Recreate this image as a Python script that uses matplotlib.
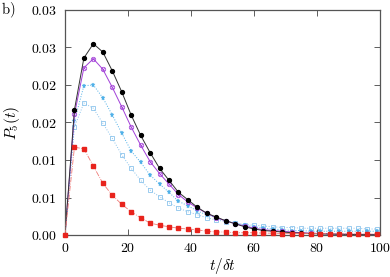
import numpy as np
import matplotlib
matplotlib.use("Agg")
import matplotlib.pyplot as plt

plt.rcParams['mathtext.fontset'] = 'cm'
plt.rcParams['font.family'] = ['DejaVu Serif']

t = np.arange(0, 100, 3)

black = [0, 0.0167, 0.0236, 0.0255, 0.0244, 0.0219, 0.0191, 0.0160, 0.0133, 0.0110,
         0.0089, 0.0073, 0.0057, 0.0047, 0.0037, 0.0029, 0.0024, 0.0019, 0.0015, 0.0011,
         0.0008, 0.0006, 0.0005, 0.0004, 0.0003, 0.00025, 0.0002, 0.00015, 0.00012, 0.0001,
         0.00008, 0.00006, 0.00005, 0.00004]
purple = [0, 0.0161, 0.0223, 0.0235, 0.0221, 0.0197, 0.0171, 0.0144, 0.0120, 0.0098,
          0.0082, 0.0068, 0.0054, 0.0044, 0.0036, 0.0029, 0.0023, 0.0019, 0.0015, 0.0012,
          0.0009, 0.0007, 0.0006, 0.0005, 0.0004, 0.0003, 0.00025, 0.0002, 0.00015, 0.00012,
          0.0001, 0.00009, 0.00008, 0.00007]
stars = [0, 0.0152, 0.0199, 0.0200, 0.0183, 0.0160, 0.0136, 0.0112, 0.0097, 0.0080,
         0.0068, 0.0057, 0.0045, 0.0039, 0.0032, 0.0027, 0.0023, 0.0019, 0.0016, 0.0013,
         0.0011, 0.0009, 0.0008, 0.0007, 0.0006, 0.0006, 0.0005, 0.0005, 0.0005, 0.0005,
         0.0005, 0.0005, 0.0005, 0.0005]
squares = [0, 0.0144, 0.0176, 0.0169, 0.0149, 0.0129, 0.0107, 0.0089, 0.0073, 0.0060,
           0.0051, 0.0043, 0.0036, 0.0031, 0.0027, 0.0023, 0.0020, 0.0018, 0.0016, 0.0014,
           0.0013, 0.0012, 0.0011, 0.0010, 0.0010, 0.0009, 0.0009, 0.0009, 0.0009, 0.0009,
           0.0009, 0.0009, 0.0008, 0.0008]
red = [0, 0.0117, 0.0115, 0.0092, 0.0069, 0.0053, 0.0041, 0.0031, 0.0023, 0.0016,
       0.0013, 0.0011, 0.0009, 0.0008, 0.0007, 0.0005, 0.0004, 0.0004, 0.0003, 0.0003,
       0.0003, 0.00025, 0.00025, 0.0002, 0.0002, 0.0002, 0.0002, 0.00018, 0.00017, 0.00016,
       0.00015, 0.00015, 0.00015, 0.00015]

yticks = [0, 0.005, 0.01, 0.015, 0.02, 0.025, 0.03]
ytick_labels = ['0.00', '0.01', '0.01', '0.02', '0.02', '0.03', '0.03']
xticks = [0, 20, 40, 60, 80, 100]

fig = plt.figure(figsize=(3.9, 2.77), dpi=100)
ax = fig.add_axes([65/390, 1-235/277, (380-65)/390, (235-10)/277])

c_sq = '#8cc4ec'
c_st = '#4fb0e8'
c_pu = '#a23fd8'
c_red = '#e8231c'

ax.plot(t, squares, ls=':', color=c_sq, lw=0.7, marker='s', ms=2.8, mfc='none',
        mec=c_sq, mew=0.6)
ax.plot(t, stars, ls=':', color=c_st, lw=0.7, marker='*', ms=3.6, mfc=c_st,
        mec=c_st, mew=0.3)
ax.plot(t, purple, ls='-', color=c_pu, lw=0.7, marker='o', ms=3.2, mfc='none',
        mec=c_pu, mew=0.55)
ax.plot(t, purple, ls='none', marker='x', ms=2.0, mec=c_pu, mew=0.45)
ax.plot(t, black, ls='-', color='#333333', lw=0.7, marker='o', ms=2.8, mfc='black',
        mec='black')
ax.plot(t, red, ls='-.', color='#f07a76', lw=0.6, marker='s', ms=2.6, mfc=c_red,
        mec=c_red, clip_on=False, zorder=5)

ax.set_xlim(0, 100)
ax.set_ylim(0, 0.03)
ax.set_xticks(xticks)
ax.set_xticklabels(['$%d$' % v for v in xticks])
ax.set_yticks(yticks)
ax.set_yticklabels(['$%s$' % s for s in ytick_labels])
ax.tick_params(axis='both', direction='in', top=True, right=True, length=4, width=0.6,
               labelsize=10, color='#444444')
ax.tick_params(axis='x', pad=4)
ax.tick_params(axis='y', pad=6)
for s in ax.spines.values():
    s.set_color('#555555')
    s.set_linewidth(0.9)

ax.set_xlabel(r'$t/\delta t$', fontsize=11, labelpad=1)
ax.set_ylabel(r'$P_5(t)$', fontsize=11, labelpad=6)
fig.text(0.003, 0.962, r'$\mathrm{b)}$', fontsize=10.5, va='center', ha='left')

fig.savefig('out.png', dpi=100)
